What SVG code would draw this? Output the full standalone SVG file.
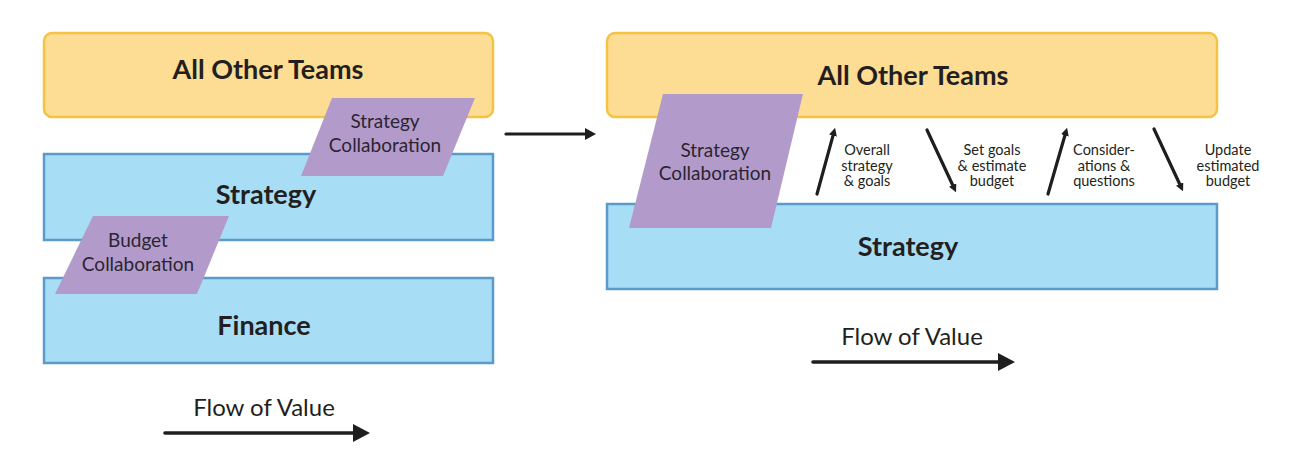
<svg xmlns="http://www.w3.org/2000/svg" width="1298" height="463" viewBox="0 0 1298 463">
<style>
.bg{fill:#ffffff}
.yel{fill:#FDDC93;stroke:#F5C344;stroke-width:2.5}
.blu{fill:#A8DDF6;stroke:#5B9BCA;stroke-width:2.5}
.pur{fill:#B29BCB}
.big{font-family:Lato,"Liberation Sans",sans-serif;font-weight:bold;font-size:27px;fill:#231F20;text-anchor:middle}
.col{font-family:Lato,"Liberation Sans",sans-serif;font-size:19px;fill:#2C2431;text-anchor:middle}
.lbl{font-family:Lato,"Liberation Sans",sans-serif;font-size:14.5px;fill:#231F20;text-anchor:middle}
.flow{font-family:Lato,"Liberation Sans",sans-serif;font-size:24px;fill:#231F20;text-anchor:middle}
.ar{stroke:#1E1E1E;stroke-width:3.2;fill:none;stroke-linecap:round}
.arb{stroke:#1E1E1E;stroke-width:3.6;fill:none;stroke-linecap:round}
</style>
<defs>
<marker id="hs" viewBox="0 0 10 10" refX="1" refY="5" markerWidth="8" markerHeight="8" markerUnits="userSpaceOnUse" orient="auto"><path d="M0,0 L10,5 L0,10 z" fill="#1E1E1E"/></marker>
<marker id="hl" viewBox="0 0 17 18" refX="0" refY="9" markerWidth="17" markerHeight="18" markerUnits="userSpaceOnUse" orient="auto"><path d="M0,0 L17,9 L0,18 z" fill="#1E1E1E"/></marker>
<marker id="hm" viewBox="0 0 11 12" refX="0" refY="6" markerWidth="11" markerHeight="12" markerUnits="userSpaceOnUse" orient="auto"><path d="M0,0 L11,6 L0,12 z" fill="#1E1E1E"/></marker>
</defs>
<rect class="bg" x="0" y="0" width="1298" height="463"/>

<!-- Left panel -->
<g id="left-all-other-teams">
<rect class="yel" x="44" y="33" width="449" height="84" rx="8"/>
<text class="big" x="268" y="79">All Other Teams</text>
</g>
<g id="left-strategy">
<rect class="blu" x="44" y="154" width="449" height="86"/>
<text class="big" x="266" y="204">Strategy</text>
</g>
<g id="left-finance">
<rect class="blu" x="44" y="278" width="449" height="85"/>
<text class="big" x="264" y="335">Finance</text>
</g>
<g id="left-strategy-collaboration">
<polygon class="pur" points="332,98 475,98 443,176 301,176"/>
<text class="col" x="385" y="128">Strategy</text>
<text class="col" x="385" y="152">Collaboration</text>
</g>
<g id="left-budget-collaboration">
<polygon class="pur" points="93,216 229,216 197,294 55,294"/>
<text class="col" x="138" y="247">Budget</text>
<text class="col" x="138" y="271">Collaboration</text>
</g>
<g id="left-flow-label">
<text class="flow" x="264" y="416">Flow of Value</text>
</g>

<!-- Right panel -->
<g id="right-all-other-teams">
<rect class="yel" x="607" y="33" width="610" height="84" rx="8"/>
<text class="big" x="913" y="85">All Other Teams</text>
</g>
<g id="right-strategy">
<rect class="blu" x="607" y="204" width="610" height="85"/>
<text class="big" x="908" y="256">Strategy</text>
</g>
<g id="right-strategy-collaboration">
<polygon class="pur" points="663,94 803,94 771,228 629,228"/>
<text class="col" x="715" y="157">Strategy</text>
<text class="col" x="715" y="180">Collaboration</text>
</g>
<g id="right-labels">
<text class="lbl" x="867" y="155">Overall</text>
<text class="lbl" x="867" y="170.5">strategy</text>
<text class="lbl" x="867" y="186">&amp; goals</text>
<text class="lbl" x="992" y="155">Set goals</text>
<text class="lbl" x="992" y="170.5">&amp; estimate</text>
<text class="lbl" x="992" y="186">budget</text>
<text class="lbl" x="1104" y="155">Consider-</text>
<text class="lbl" x="1104" y="170.5">ations &amp;</text>
<text class="lbl" x="1104" y="186">questions</text>
<text class="lbl" x="1228" y="155">Update</text>
<text class="lbl" x="1228" y="170.5">estimated</text>
<text class="lbl" x="1228" y="186">budget</text>
</g>
<g id="right-flow-label">
<text class="flow" x="912" y="345">Flow of Value</text>
</g>

<!-- Connectors -->
<g id="connectors">
<line class="arb" x1="165" y1="433" x2="353" y2="433" marker-end="url(#hl)"/>
<line class="arb" x1="813" y1="362" x2="998" y2="362" marker-end="url(#hl)"/>
<line class="ar" x1="506" y1="134" x2="585" y2="134" marker-end="url(#hm)"/>
<line class="ar" x1="817" y1="194" x2="833.2" y2="134.8" marker-end="url(#hs)"/>
<line class="ar" x1="927" y1="130" x2="953" y2="185.7" marker-end="url(#hs)"/>
<line class="ar" x1="1048" y1="194" x2="1065.1" y2="134.7" marker-end="url(#hs)"/>
<line class="ar" x1="1154" y1="129" x2="1180" y2="184.7" marker-end="url(#hs)"/>
</g>
</svg>
